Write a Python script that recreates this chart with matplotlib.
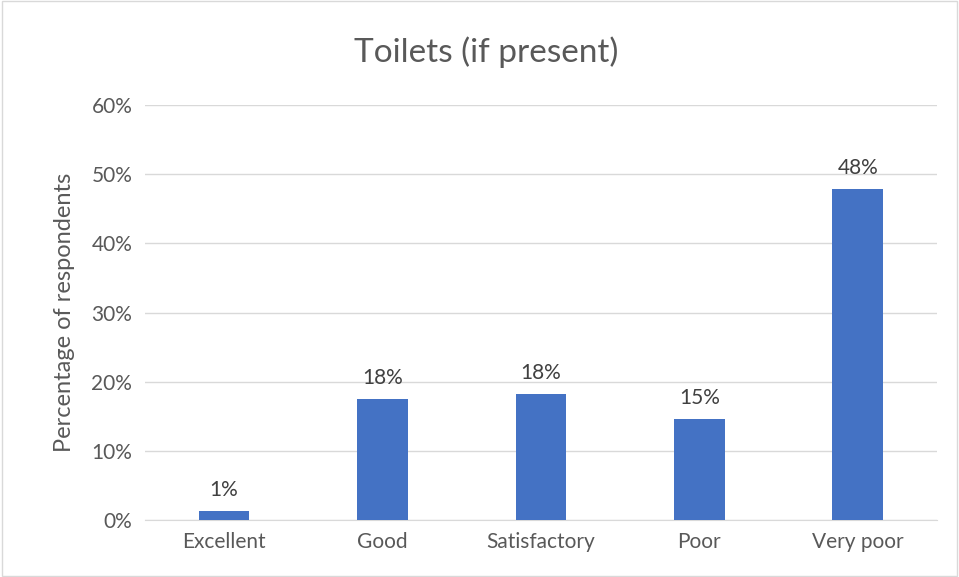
import matplotlib
matplotlib.use('Agg')
import matplotlib.pyplot as plt
from matplotlib.patches import Rectangle
from matplotlib.ticker import PercentFormatter

categories = ['Excellent', 'Good', 'Satisfactory', 'Poor', 'Very poor']
shares = [0.013, 0.175, 0.182, 0.146, 0.478]
bar_labels = ['1%', '18%', '18%', '15%', '48%']

plt.rcParams['font.family'] = ['Lato', 'DejaVu Sans']
text_col = '#595959'

fig = plt.figure(figsize=(9.59, 5.77), dpi=100)
ax = fig.add_axes([0.151, 0.0988, 0.826, 0.719])

x = range(len(categories))
bars = ax.bar(x, shares, width=0.32, color='#4472C4', zorder=3)
# labels sit a little above each bar
for b, lab in zip(bars, bar_labels):
    ax.text(b.get_x() + b.get_width() / 2, b.get_height() + 0.016, lab,
            ha='center', va='bottom', fontsize=15, color='#404040')

ax.set_ylim(0, 0.6)
ax.set_xlim(-0.5, len(categories) - 0.5)
ax.set_yticks([0, 0.1, 0.2, 0.3, 0.4, 0.5, 0.6])
ax.yaxis.set_major_formatter(PercentFormatter(1.0, decimals=0))
ax.set_xticks(list(x))
ax.set_xticklabels(categories)
ax.tick_params(axis='both', length=0, labelsize=15, colors=text_col, pad=9)
ax.grid(axis='y', color='#D9D9D9', linewidth=1, zorder=0)
for s in ['top', 'right', 'left']:
    ax.spines[s].set_visible(False)
ax.spines['bottom'].set_color('#D9D9D9')
ax.set_ylabel('Percentage of respondents', fontsize=17, color=text_col, labelpad=12)

fig.text(0.507, 0.91, 'Toilets (if present)', ha='center', va='center', fontsize=24, color=text_col)
fig.patches.append(Rectangle((0.002, 0.002), 0.996, 0.996, transform=fig.transFigure,
                             fill=False, edgecolor='#D9D9D9', linewidth=1))

fig.savefig('out.png', dpi=100)
